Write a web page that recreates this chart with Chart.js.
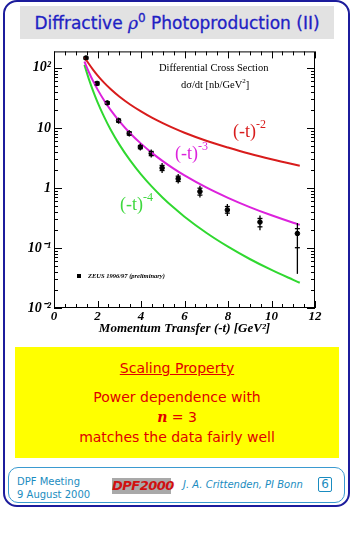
<!DOCTYPE html>
<html><head><meta charset="utf-8">
<script src="https://cdn.jsdelivr.net/npm/chart.js@4/dist/chart.umd.min.js"></script>
<style>
html,body{margin:0;padding:0;background:#fff;width:363px;height:535px;overflow:hidden;position:relative;}
.abs{position:absolute;white-space:nowrap;}
#frame{position:absolute;left:3px;top:0px;width:347px;height:507px;border:2px solid #1c1c9c;border-radius:14px;box-sizing:border-box;}
#titlebox{position:absolute;left:20px;top:6px;width:314px;height:33px;background:#e2e2e2;}
#title{left:20px;width:314px;top:6px;height:33px;font:17px "DejaVu Sans",sans-serif;line-height:34px;text-align:center;color:#1f1fc4;-webkit-text-stroke:0.3px #1f1fc4;}
#title i{font-family:"DejaVu Serif",serif;}
#title sup{font-size:12px;vertical-align:7px;line-height:0;}
#chartwrap{position:absolute;left:0;top:40px;width:345px;height:296px;}
.ser{font-family:"Liberation Serif","Times New Roman",serif;}
.lab{font-family:"Liberation Serif",serif;font-size:18px;line-height:18px;}
.lab sup{font-size:12px;vertical-align:9px;line-height:0;}
#yellow{position:absolute;left:15px;top:347px;width:324px;height:111px;background:#ffff00;color:#e00000;font:14px "DejaVu Sans",sans-serif;text-align:center;}
#yellow div{position:absolute;left:0;width:324px;text-align:center;line-height:16px;}
#footer{position:absolute;left:8px;top:467px;width:337px;height:36px;border:1px solid #3a9ad0;border-radius:10px;box-sizing:border-box;}
.ft{color:#1a8cc0;font:10px "DejaVu Sans",sans-serif;}
</style></head>
<body>
<div id="frame"></div>
<div id="titlebox"></div>
<div id="title" class="abs">Diffractive <i>ρ</i><sup>0</sup> Photoproduction (II)</div>
<div id="chartwrap"><canvas id="c" width="345" height="296"></canvas></div>

<div class="abs ser" style="left:159px;top:62px;font-size:10.5px;">Differential Cross Section</div>
<div class="abs ser" style="left:181px;top:79px;font-size:10.5px;">dσ/dt [nb/GeV<sup style="font-size:7px;vertical-align:5px;line-height:0">2</sup>]</div>
<div class="abs lab" style="left:233px;top:122px;color:#d81c1c;">(-t)<sup>-2</sup></div>
<div class="abs lab" style="left:175px;top:144px;color:#dc22dc;">(-t)<sup>-3</sup></div>
<div class="abs lab" style="left:120px;top:195px;color:#3ed83e;">(-t)<sup>-4</sup></div>

<div id="yellow">
  <div style="top:13px;text-decoration:underline;">Scaling Property</div>
  <div style="top:42px;">Power dependence with</div>
  <div style="top:62px;"><i style="font-family:'DejaVu Serif',serif;font-weight:bold;">n</i> = 3</div>
  <div style="top:82px;">matches the data fairly well</div>
</div>

<div id="footer"></div>
<div class="abs ft" style="left:17px;top:476px;">DPF Meeting</div>
<div class="abs ft" style="left:17px;top:489px;">9 August 2000</div>
<div class="abs" style="left:112px;top:478px;width:59px;height:16px;background:#a9a9a9;color:#d01010;font:italic bold 13px 'DejaVu Sans',sans-serif;line-height:16px;text-align:center;letter-spacing:-0.5px;">DPF2000</div>
<div class="abs ft" style="left:183px;top:479px;font-style:italic;font-size:10px;">J. A. Crittenden, PI Bonn</div>
<div class="abs ft" style="left:318px;top:477px;width:14px;height:15px;border:1px solid #1a8cc0;border-radius:2px;box-sizing:border-box;font-size:12px;line-height:13px;text-align:center;">6</div>

<script>
// ---- data ----
const tValues = [1.47, 1.98, 2.45, 2.97, 3.46, 3.97, 4.47, 4.97, 5.71, 6.71, 7.97, 9.47, 11.19];
const dsdt    = [146, 55, 26, 13.2, 8.1, 4.8, 3.75, 2.15, 1.42, 0.87, 0.43, 0.27, 0.174];
const errLow  = [135, 50, 23.7, 11.8, 7.2, 4.2, 3.2, 1.78, 1.18, 0.69, 0.34, 0.197, 0.037];
const errHigh = [157, 60.4, 28.6, 14.8, 9.1, 5.5, 4.35, 2.6, 1.71, 1.09, 0.54, 0.347, 0.26];
const statLow = [140, 52, 24.8, 12.5, 7.6, 4.5, 3.45, 1.95, 1.28, 0.76, 0.38, 0.225, 0.101];
const statHigh= [152, 58, 27.3, 14.0, 8.6, 5.1, 4.05, 2.37, 1.57, 0.99, 0.49, 0.31, 0.21];

const curveT   = [1.4, 1.6, 1.8, 2.0, 2.3, 2.6, 3.0, 3.5, 4.0, 4.5, 5.0, 5.5, 6.0, 7.0, 8.0, 9.0, 10.0, 11.0, 11.3];
const curveN2  = [150, 117, 92.6, 75, 56.7, 44.4, 33.3, 24.5, 18.8, 14.8, 12.0, 9.9, 8.3, 6.1, 4.7, 3.7, 3.0, 2.48, 2.35];
const curveN3  = [127.6, 85.4, 60, 43.8, 28.8, 19.9, 13.0, 8.16, 5.47, 3.84, 2.8, 2.10, 1.62, 1.02, 0.684, 0.48, 0.35, 0.263, 0.243];
const curveN4  = [112, 65.6, 41, 26.9, 15.4, 9.41, 5.31, 2.87, 1.68, 1.05, 0.688, 0.47, 0.332, 0.179, 0.105, 0.0655, 0.043, 0.0294, 0.0263];

const xTickLabels = ['0','2','4','6','8','10','12'];
const yTickValues = [0.01, 0.1, 1, 10, 100];
const yTickLabels = ['10⁻²', '10⁻¹', '1', '10', '10²'];
const legendText = 'ZEUS 1996/97 (preliminary)';

const pts = (xs, ys) => xs.map((x, i) => ({x, y: ys[i]}));

const errorBars = {
  id: 'errorBars',
  afterDatasetsDraw(chart) {
    const {ctx, scales: {x, y}} = chart;
    ctx.save();
    ctx.strokeStyle = '#000'; ctx.lineWidth = 1.3;
    tValues.forEach((t, i) => {
      const px = x.getPixelForValue(t);
      ctx.beginPath();
      ctx.moveTo(px, y.getPixelForValue(errHigh[i]));
      ctx.lineTo(px, y.getPixelForValue(errLow[i]));
      ctx.stroke();
      [statLow[i], statHigh[i]].forEach(v => {
        const py = y.getPixelForValue(v);
        ctx.beginPath(); ctx.moveTo(px - 2.5, py); ctx.lineTo(px + 2.5, py); ctx.stroke();
      });
    });
    ctx.restore();
  }
};

const frameTicks = {
  id: 'frameTicks',
  afterDraw(chart) {
    const {ctx, chartArea: a, scales: {x, y}} = chart;
    ctx.save();
    ctx.strokeStyle = '#000'; ctx.lineWidth = 1;
    ctx.strokeRect(a.left + 0.5, a.top + 0.5, a.right - a.left - 1, a.bottom - a.top - 1);
    const line = (x1, y1, x2, y2) => { ctx.beginPath(); ctx.moveTo(x1, y1); ctx.lineTo(x2, y2); ctx.stroke(); };
    for (let k = 0; k <= 24; k++) {
      const v = k * 0.5;
      const px = Math.round(x.getPixelForValue(v)) + 0.5;
      const L = (k % 4 === 0) ? 7 : 4;
      line(px, a.bottom, px, a.bottom - L);
      line(px, a.top, px, a.top + L);
    }
    y.ticks.forEach(t => {
      const v = t.value;
      const py = Math.round(y.getPixelForValue(v)) + 0.5;
      const major = yTickValues.some(m => Math.abs(m - v) / m < 1e-6);
      const L = major ? 8 : 4;
      line(a.left, py, a.left + L, py);
      line(a.right, py, a.right - L, py);
    });
    // legend
    const lx = a.left + 25, ly = a.bottom - 32;
    ctx.fillStyle = '#000';
    ctx.fillRect(lx - 2, ly - 2, 4, 4);
    ctx.font = 'italic bold 6.5px "Liberation Serif", serif';
    ctx.textBaseline = 'middle';
    ctx.fillText(legendText, lx + 9, ly);
    ctx.restore();
  }
};

const tickFont = {family: '"Liberation Serif", serif', style: 'italic', weight: 'bold', size: 13};

new Chart(document.getElementById('c'), {
  type: 'scatter',
  data: {
    datasets: [
      {type: 'line', data: pts(curveT, curveN2), borderColor: '#d81c1c', borderWidth: 2, pointRadius: 0, cubicInterpolationMode: 'monotone', fill: false},
      {type: 'line', data: pts(curveT, curveN3), borderColor: '#dc22dc', borderWidth: 2, pointRadius: 0, cubicInterpolationMode: 'monotone', fill: false},
      {type: 'line', data: pts(curveT, curveN4), borderColor: '#30d830', borderWidth: 2, pointRadius: 0, cubicInterpolationMode: 'monotone', fill: false},
      {type: 'scatter', data: pts(tValues, dsdt), backgroundColor: '#000', borderColor: '#000', pointRadius: 2.3, pointStyle: 'circle'}
    ]
  },
  options: {
    responsive: false, animation: false,
    layout: {padding: {top: 8, right: 30, left: 0, bottom: 0}},
    plugins: {legend: {display: false}, tooltip: {enabled: false}},
    scales: {
      x: {
        type: 'linear', min: 0, max: 12,
        afterFit(s) { s.height = 28; },
        grid: {display: false, drawTicks: false}, border: {display: false},
        ticks: {stepSize: 2, font: tickFont, color: '#000', padding: 1, maxRotation: 0,
          callback: (v) => xTickLabels[Math.round(v / 2)] ?? ''},
        title: {display: true, text: 'Momentum Transfer (-t) [GeV²]', color: '#000', font: tickFont, padding: 0}
      },
      y: {
        type: 'logarithmic', min: 0.01, max: 188,
        afterFit(s) { s.width = 54; },
        afterBuildTicks(s) {
          const out = [];
          [0.01, 0.1, 1, 10, 100].forEach(d => { for (let m = 1; m <= 9; m++) { const v = d * m; if (v <= 188) out.push({value: v}); } });
          s.ticks = out;
        },
        grid: {display: false, drawTicks: false}, border: {display: false},
        ticks: {autoSkip: false, font: {family: '"Liberation Serif", serif', style: 'italic', weight: 'bold', size: 14}, color: '#000', padding: 3,
          callback: (v) => { const i = yTickValues.findIndex(m => Math.abs(m - v) / m < 1e-6); return i >= 0 ? yTickLabels[i] : ''; }}
      }
    }
  },
  plugins: [errorBars, frameTicks]
});
</script>
</body></html>
